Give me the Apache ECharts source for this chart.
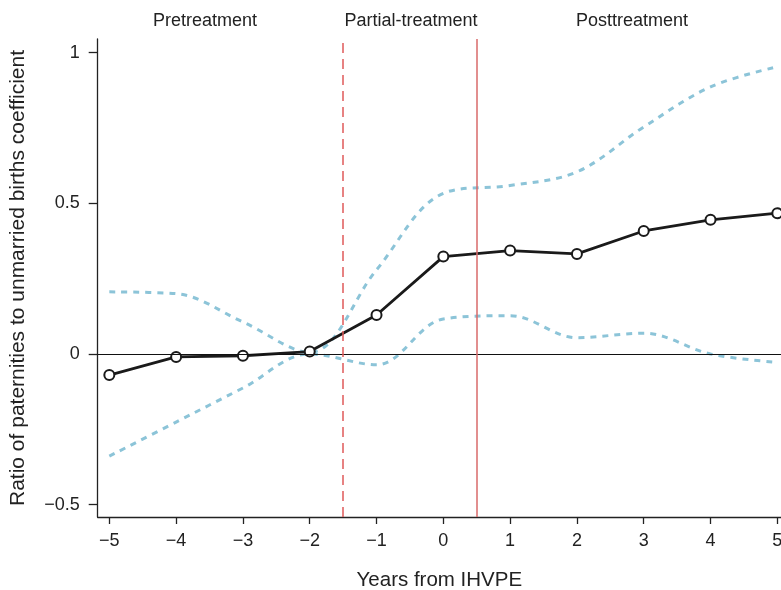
<!DOCTYPE html>
<html><head><meta charset="utf-8">
<script src="https://cdn.jsdelivr.net/npm/echarts@6/dist/echarts.min.js"></script>
<style>html,body{margin:0;padding:0;background:#fff}#c{width:781px;height:590px}</style>
</head><body><div id="c"></div>
<script>
var years = [-5, -4, -3, -2, -1, 0, 1, 2, 3, 4, 5];
var coef  = [-0.07, -0.01, -0.006, 0.008, 0.129, 0.323, 0.343, 0.332, 0.408, 0.445, 0.467];
var upper = [0.206, 0.200, 0.106, 0.005, 0.279, 0.533, 0.559, 0.604, 0.753, 0.886, 0.953];
var lower = [-0.339, -0.226, -0.113, 0.0, -0.036, 0.116, 0.127, 0.054, 0.069, 0.0, -0.028];
var xTicks = [-5, -4, -3, -2, -1, 0, 1, 2, 3, 4, 5];
var yTicks = [-0.5, 0, 0.5, 1];
var periodLabels = ['Pretreatment', 'Partial-treatment', 'Posttreatment'];
var partialStart = -1.5, postStart = 0.5;

function pairs(v){ return years.map(function(x,i){ return [x, v[i]]; }); }
function fmt(v){ var s = String(Math.abs(v)); return v < 0 ? '\u2212' + s : s; }

var font = 'Liberation Sans, Arial, Helvetica, sans-serif';
var chart = echarts.init(document.getElementById('c'));
function topText(t, x){
  return {type: 'text', x: x, y: 21, style: {text: t, fill: '#222', font: '18px ' + font, align: 'center', verticalAlign: 'middle'}};
}
chart.setOption({
  animation: false,
  textStyle: {fontFamily: font},
  grid: {left: 97.7, right: 0, top: 39, bottom: 73, containLabel: false, outerBoundsMode: 'none'},
  xAxis: {
    type: 'value', min: -5.174, max: 5.055,
    name: 'Years from IHVPE', nameLocation: 'middle', nameGap: 53,
    nameTextStyle: {fontSize: 20.5, color: '#222', fontFamily: font},
    axisLine: {show: true, onZero: false, lineStyle: {color: '#222', width: 1.3}},
    axisTick: {show: true, length: 7, customValues: xTicks, lineStyle: {color: '#222', width: 1.3}},
    axisLabel: {customValues: xTicks, fontSize: 18, color: '#222', margin: 15, formatter: fmt, fontFamily: font},
    splitLine: {show: false}
  },
  yAxis: {
    type: 'value', min: -0.541, max: 1.045,
    name: 'Ratio of paternities to unmarried births coefficient', nameLocation: 'middle', nameRotate: 90, nameGap: 69,
    nameTextStyle: {fontSize: 21, color: '#222', fontFamily: font},
    axisLine: {show: true, onZero: false, lineStyle: {color: '#222', width: 1.3}},
    axisTick: {show: true, length: 9, customValues: yTicks, lineStyle: {color: '#222', width: 1.3}},
    axisLabel: {customValues: yTicks, fontSize: 18, color: '#222', margin: 18, formatter: fmt, fontFamily: font},
    splitLine: {show: false}
  },
  graphic: [
    topText(periodLabels[0], 205),
    topText(periodLabels[1], 411),
    topText(periodLabels[2], 632)
  ],
  series: [
    {
      type: 'line', data: pairs(upper), smooth: 0.35, symbol: 'none',
      lineStyle: {color: '#8cc4d8', width: 3, type: [6, 6]}, z: 2
    },
    {
      type: 'line', data: pairs(lower), smooth: 0.35, symbol: 'none',
      lineStyle: {color: '#8cc4d8', width: 3, type: [6, 6]}, z: 2
    },
    {
      type: 'line', data: pairs(coef), symbol: 'emptyCircle', symbolSize: 10,
      lineStyle: {color: '#1a1a1a', width: 2.8},
      itemStyle: {color: '#1a1a1a', borderColor: '#1a1a1a', borderWidth: 1.1},
      z: 4,
      markLine: {
        silent: true, symbol: 'none', label: {show: false},
        data: [
          {yAxis: 0, lineStyle: {color: '#111', width: 1.2, type: 'solid'}},
          {xAxis: partialStart, lineStyle: {color: '#e05a5a', width: 1.5, type: [10, 6]}},
          {xAxis: postStart, lineStyle: {color: '#d96a6a', width: 1.5, type: 'solid'}}
        ]
      }
    }
  ]
});
</script></body></html>
